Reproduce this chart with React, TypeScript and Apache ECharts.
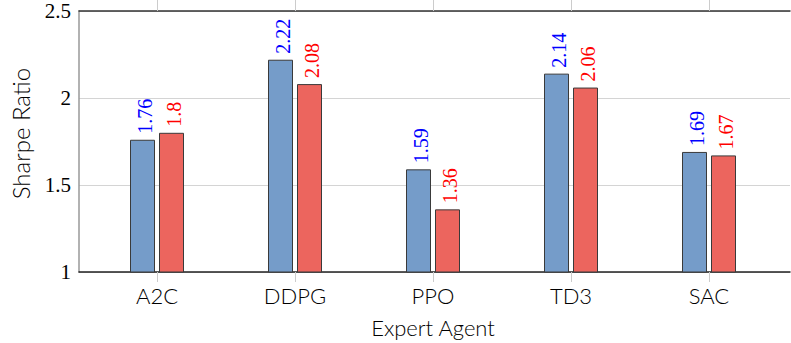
import React, { useEffect, useRef } from "react";
import * as echarts from "echarts";

const categories = ["A2C", "DDPG", "PPO", "TD3", "SAC"];
const blueValues = [1.76, 2.22, 1.59, 2.14, 1.69];
const redValues = [1.8, 2.08, 1.36, 2.06, 1.67];
const yTicks = { min: 1, max: 2.5, interval: 0.5 };

const SANS = "Lato, 'Open Sans', sans-serif";
const SERIF = "'Liberation Serif', 'DejaVu Serif', serif";

export default function App() {
  const ref = useRef<HTMLDivElement>(null);
  useEffect(() => {
    if (!ref.current) return;
    const chart = echarts.init(ref.current, null, { renderer: "svg" });
    const top = 11;
    const height = 261;
    const labelBase = {
      show: true,
      position: "top" as const,
      rotate: 90,
      align: "left" as const,
      verticalAlign: "middle" as const,
      distance: 6,
      offset: [0, 2],
      fontFamily: SERIF,
      fontSize: 20,
    };
    chart.setOption({
      animation: false,
      backgroundColor: "#ffffff",
      grid: [
        { left: 75, right: 1, top, height },
        { left: 88, right: 13, top, height },
      ],
      xAxis: [
        {
          type: "value", gridIndex: 0, min: 0, max: 1, position: "bottom",
          axisLine: { show: true, lineStyle: { color: "#222", width: 1.5 } },
          axisTick: { show: false }, axisLabel: { show: false }, splitLine: { show: false },
        },
        {
          type: "value", gridIndex: 0, min: 0, max: 1, position: "top",
          axisLine: { show: true, lineStyle: { color: "#333", width: 1.5 } },
          axisTick: { show: false }, axisLabel: { show: false }, splitLine: { show: false },
        },
        {
          type: "category", gridIndex: 1, data: categories, position: "bottom",
          axisLine: { show: false },
          axisTick: { show: true, alignWithLabel: true, length: 10, lineStyle: { color: "#cccccc" } },
          axisLabel: { fontFamily: SANS, fontWeight: 300, fontSize: 22, color: "#000", margin: 12 },
          name: "Expert Agent", nameLocation: "middle", nameGap: 44,
          nameTextStyle: { fontFamily: SANS, fontWeight: 300, fontSize: 22, color: "#000" },
        },
        {
          type: "category", gridIndex: 1, data: categories, position: "top",
          axisLine: { show: false },
          axisTick: { show: true, alignWithLabel: true, length: 11, lineStyle: { color: "#cccccc" } },
          axisLabel: { show: false },
        },
      ],
      yAxis: [
        {
          type: "value", gridIndex: 0, min: yTicks.min, max: yTicks.max, interval: yTicks.interval,
          axisLine: { show: true, lineStyle: { color: "#999", width: 1.5 } },
          axisTick: { show: false },
          axisLabel: { fontFamily: SERIF, fontSize: 21, color: "#000", margin: 8 },
          splitLine: { show: true, lineStyle: { color: "#d4d4d4", width: 1.2 } },
          name: "Sharpe Ratio", nameLocation: "middle", nameGap: 47,
          nameTextStyle: { fontFamily: SANS, fontWeight: 300, fontSize: 24, color: "#000", padding: [0, 0, 0, 16] },
        },
        {
          type: "value", gridIndex: 1, min: yTicks.min, max: yTicks.max, interval: yTicks.interval,
          show: false,
        },
      ],
      series: [
        {
          type: "bar", xAxisIndex: 2, yAxisIndex: 1, data: blueValues,
          barWidth: 25, barGap: "16%",
          itemStyle: { color: "#759cc9", borderColor: "#3a3a3a", borderWidth: 1 },
          label: { ...labelBase, color: "#0000ff" },
        },
        {
          type: "bar", xAxisIndex: 2, yAxisIndex: 1, data: redValues,
          barWidth: 25, barGap: "16%",
          itemStyle: { color: "#ec655e", borderColor: "#3a3a3a", borderWidth: 1 },
          label: { ...labelBase, color: "#ff0000" },
        },
      ],
    });
    return () => chart.dispose();
  }, []);
  return (
    <div
      ref={ref}
      style={{ position: "fixed", left: 0, top: 0, width: 791, height: 343 }}
    />
  );
}
